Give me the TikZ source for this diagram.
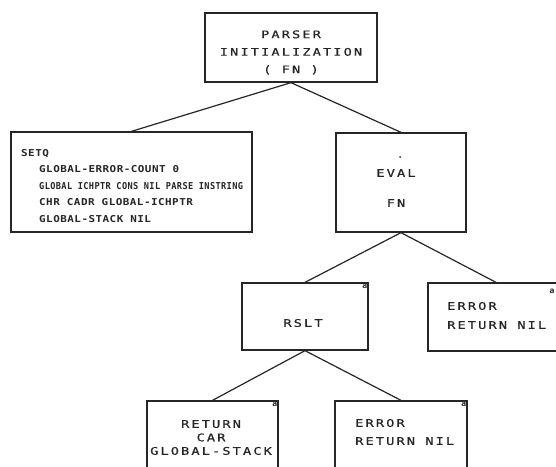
\documentclass[tikz,border=0pt]{standalone}
\usepackage{fontspec}
\usepackage{graphicx}
\newfontfamily\plotfont[LetterSpace=20,FakeStretch=1.3,FakeBold=0.6]{DejaVu Sans Mono}
\newfontfamily\plotsmall[LetterSpace=5,FakeStretch=1.15]{DejaVu Sans Mono}
\newfontfamily\plotmark{DejaVu Sans Mono}
\definecolor{ink}{HTML}{262626}
\begin{document}
\begin{tikzpicture}[x=1pt,y=-1pt,
  box/.style={draw=ink, line width=1.3pt, inner sep=0pt},
  txt/.style={font=\plotfont\fontsize{10.5}{17.5}\selectfont, text=ink, inner sep=0pt},
  smalltxt/.style={font=\plotsmall\bfseries\fontsize{9.5}{16.5}\selectfont, text=ink, inner sep=0pt, align=left},
  link/.style={draw=ink, line width=1.2pt},
  cornermark/.style={font=\plotmark\bfseries\fontsize{8}{8}\selectfont, text=ink, inner sep=1.2pt}]
\useasboundingbox (0,0) rectangle (556,466);
\clip (0,0) rectangle (556,466);
\fill[white] (0,0) rectangle (556,466);

% boxes
\node[box, minimum width=172pt, minimum height=69pt] (init) at (291,47.5) {};
\node[box, minimum width=241pt, minimum height=100pt] (setq) at (131.5,182) {};
\node[box, minimum width=130pt, minimum height=99pt] (eval) at (401,182.5) {};
\node[box, minimum width=126pt, minimum height=67pt] (rslt) at (305,316.5) {};
\node[box, minimum width=136pt, minimum height=68pt] (err1) at (496,317) {};
\node[box, minimum width=131pt, minimum height=73pt] (ret) at (212.5,437.5) {};
\node[box, minimum width=132pt, minimum height=73pt] (err2) at (401,437.5) {};

% texts
\node[txt, align=center] (initT) at (291,52.5) {PARSER\\INITIALIZATION\\( FN )};
\node[smalltxt, anchor=west] (setqT) at (21,186) {SETQ\\
\hspace*{18pt}GLOBAL-ERROR-COUNT 0\\
\hspace*{18pt}\scalebox{0.79}[1]{GLOBAL ICHPTR CONS NIL PARSE INSTRING}\\
\hspace*{18pt}CHR CADR GLOBAL-ICHPTR\\
\hspace*{18pt}GLOBAL-STACK NIL};
\node[circle, fill=ink, inner sep=0pt, minimum size=2pt] (evaldot) at (400,157) {};
\node[txt, align=center] (evalT) at (396,188) {EVAL\\[12.5pt]FN};
\node[txt] (rsltT) at (303,323) {RSLT};
\node[txt, align=left, anchor=west] (err1T) at (447,315.5) {ERROR\\[1.5pt]RETURN NIL};
\node[txt, align=center] (retT) at (211,437.5) {RETURN\\[-4pt]CAR\\[-4pt]GLOBAL-STACK};
\node[txt, align=left, anchor=west] (err2T) at (355,432) {ERROR\\[0.5pt]RETURN NIL};

% corner marks
\node[cornermark, anchor=north east] (m1) at (rslt.north east) {a};
\node[cornermark] (m2) at (552,291) {a};
\node[cornermark, anchor=north east] (m3) at (ret.north east) {a};
\node[cornermark, anchor=north east] (m4) at (err2.north east) {a};

% connectors
\draw[link] (init.south) -- (setq.north);
\draw[link] (init.south) -- (eval.north);
\draw[link] (eval.south) -- (rslt.north);
\draw[link] (eval.south) -- (err1.north);
\draw[link] (rslt.south) -- (ret.north);
\draw[link] (rslt.south) -- (err2.north);
\end{tikzpicture}
\end{document}
